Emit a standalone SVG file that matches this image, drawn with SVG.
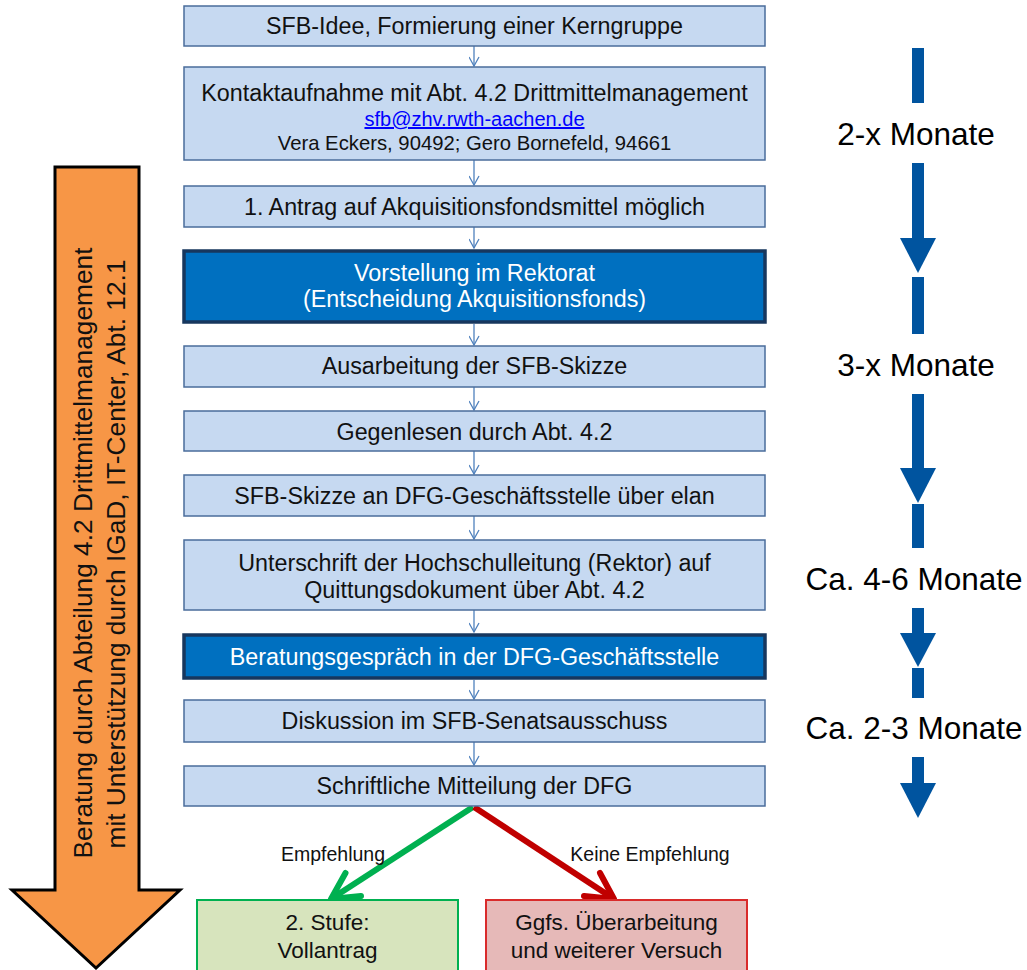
<svg xmlns="http://www.w3.org/2000/svg" width="1027" height="970" viewBox="0 0 1027 970">
<style>
text{font-family:"Liberation Sans",Arial,sans-serif;text-anchor:middle}
.lb{fill:#C6D9F1;stroke:#4A6C9B;stroke-width:1.5}
.db{fill:#0070C0;stroke:#17375E;stroke-width:3.5}
.t{font-size:23.3px;fill:#111}
.tw{font-size:23.3px;fill:#fff}
.s{font-size:20.3px;fill:#111}
.conn{stroke:#4F81BD;stroke-width:1.3;fill:none}
.blue{fill:#00549F}
.mon{font-size:31.5px;fill:#000}
.lbl{font-size:19.5px;fill:#111}
.bt{font-size:22.5px;fill:#111}
</style>
<defs>
<marker id="v" markerUnits="userSpaceOnUse" viewBox="0 0 11 11" markerWidth="11" markerHeight="11" refX="10" refY="5.5" orient="auto">
<path d="M1,0.5 L10,5.5 L1,10.5" fill="none" stroke="#4F81BD" stroke-width="1.3"/>
</marker>
</defs>

<g id="orange-arrow">
<polygon points="55,167 139,167 139,890 180,890 96,968 12,890 55,890" fill="#F79646" stroke="#000" stroke-width="3" stroke-linejoin="miter"/>
<text class="vt" transform="translate(92,553) rotate(-90)" font-size="26.3" fill="#111">Beratung durch Abteilung 4.2 Drittmittelmanagement</text>
<text class="vt" transform="translate(125,554) rotate(-90)" font-size="26.3" fill="#111">mit Unterstützung durch IGaD, IT-Center, Abt. 12.1</text>
</g>

<g id="connectors">
<line class="conn" x1="474" y1="46" x2="474" y2="66" marker-end="url(#v)"/>
<line class="conn" x1="474" y1="160" x2="474" y2="185" marker-end="url(#v)"/>
<line class="conn" x1="474" y1="227" x2="474" y2="248" marker-end="url(#v)"/>
<line class="conn" x1="474" y1="324" x2="474" y2="345" marker-end="url(#v)"/>
<line class="conn" x1="474" y1="387" x2="474" y2="410" marker-end="url(#v)"/>
<line class="conn" x1="474" y1="451" x2="474" y2="474" marker-end="url(#v)"/>
<line class="conn" x1="474" y1="516" x2="474" y2="539" marker-end="url(#v)"/>
<line class="conn" x1="474" y1="610" x2="474" y2="632" marker-end="url(#v)"/>
<line class="conn" x1="474" y1="680" x2="474" y2="699" marker-end="url(#v)"/>
<line class="conn" x1="474" y1="742" x2="474" y2="765" marker-end="url(#v)"/>
<g id="edge-empfehlung">
<line x1="473" y1="807" x2="334" y2="897" stroke="#00B050" stroke-width="6"/>
<polyline points="345.5,873 331,899 361,896" fill="none" stroke="#00B050" stroke-width="6" stroke-linejoin="round" stroke-linecap="round"/>
<text class="lbl" x="333" y="861">Empfehlung</text>
</g>
<g id="edge-keine">
<line x1="474" y1="807" x2="611" y2="897" stroke="#C00000" stroke-width="6"/>
<polyline points="600,873 614,899 584,896" fill="none" stroke="#C00000" stroke-width="6" stroke-linejoin="round" stroke-linecap="round"/>
<text class="lbl" x="650" y="861">Keine Empfehlung</text>
</g>
</g>

<g id="n1"><rect class="lb" x="184" y="6" width="581" height="40"/>
<text class="t" x="474.5" y="34">SFB-Idee,  Formierung einer Kerngruppe</text></g>

<g id="n2"><rect class="lb" x="184" y="67" width="581" height="93"/>
<text class="t" x="474.5" y="101">Kontaktaufnahme mit Abt. 4.2 Drittmittelmanagement</text>
<text x="474.5" y="126" font-size="20" fill="#0000FF" text-decoration="underline">sfb@zhv.rwth-aachen.de</text>
<text class="s" x="474.5" y="150">Vera Eckers, 90492; Gero Bornefeld, 94661</text></g>

<g id="n3"><rect class="lb" x="184" y="186" width="581" height="41"/>
<text class="t" x="474.5" y="215">1. Antrag auf Akquisitionsfondsmittel möglich</text></g>

<g id="n4"><rect class="db" x="184" y="251" width="581" height="71"/>
<text class="tw" x="474.5" y="281">Vorstellung im Rektorat</text>
<text class="tw" x="474.5" y="307">(Entscheidung Akquisitionsfonds)</text></g>

<g id="n5"><rect class="lb" x="184" y="346" width="581" height="41"/>
<text class="t" x="474.5" y="374">Ausarbeitung der SFB-Skizze</text></g>

<g id="n6"><rect class="lb" x="184" y="411" width="581" height="40"/>
<text class="t" x="474.5" y="440">Gegenlesen durch Abt. 4.2</text></g>

<g id="n7"><rect class="lb" x="184" y="475" width="581" height="41"/>
<text class="t" x="474.5" y="504">SFB-Skizze an DFG-Geschäftsstelle über elan</text></g>

<g id="n8"><rect class="lb" x="184" y="540" width="581" height="70"/>
<text class="t" x="474.5" y="571">Unterschrift der Hochschulleitung (Rektor) auf</text>
<text class="t" x="474.5" y="598">Quittungsdokument über Abt. 4.2</text></g>

<g id="n9"><rect class="db" x="184" y="635" width="581" height="43"/>
<text class="tw" x="474.5" y="665">Beratungsgespräch in der DFG-Geschäftsstelle</text></g>

<g id="n10"><rect class="lb" x="184" y="700" width="581" height="42"/>
<text class="t" x="474.5" y="729">Diskussion im SFB-Senatsausschuss</text></g>

<g id="n11"><rect class="lb" x="184" y="766" width="581" height="40"/>
<text class="t" x="474.5" y="794">Schriftliche Mitteilung der DFG</text></g>

<g id="n12"><rect x="197" y="900" width="261" height="80" fill="#D7E4BD" stroke="#00B050" stroke-width="2"/>
<text class="bt" x="327.5" y="930">2. Stufe:</text>
<text class="bt" x="327.5" y="958">Vollantrag</text></g>

<g id="n13"><rect x="486" y="900" width="261" height="80" fill="#E6B9B8" stroke="#D92B2B" stroke-width="2"/>
<text class="bt" x="616.5" y="930">Ggfs. Überarbeitung</text>
<text class="bt" x="616.5" y="958">und weiterer Versuch</text></g>

<g id="timeline">
<rect class="blue" x="912" y="48" width="12" height="55"/>
<text class="mon" x="916" y="145">2-x Monate</text>
<rect class="blue" x="912" y="163" width="12" height="76"/>
<polygon class="blue" points="900,238 936,238 918,273"/>
<rect class="blue" x="912" y="277" width="12" height="57"/>
<text class="mon" x="916" y="376">3-x Monate</text>
<rect class="blue" x="912" y="394" width="12" height="75"/>
<polygon class="blue" points="900,468 936,468 918,503"/>
<rect class="blue" x="912" y="504" width="12" height="44"/>
<text class="mon" x="914" y="590">Ca. 4-6 Monate</text>
<rect class="blue" x="912" y="608" width="12" height="26"/>
<polygon class="blue" points="900,633 936,633 918,667"/>
<rect class="blue" x="912" y="668" width="12" height="30"/>
<text class="mon" x="914" y="739">Ca. 2-3 Monate</text>
<rect class="blue" x="912" y="757" width="12" height="27"/>
<polygon class="blue" points="900,783 936,783 918,818"/>
</g>
</svg>
